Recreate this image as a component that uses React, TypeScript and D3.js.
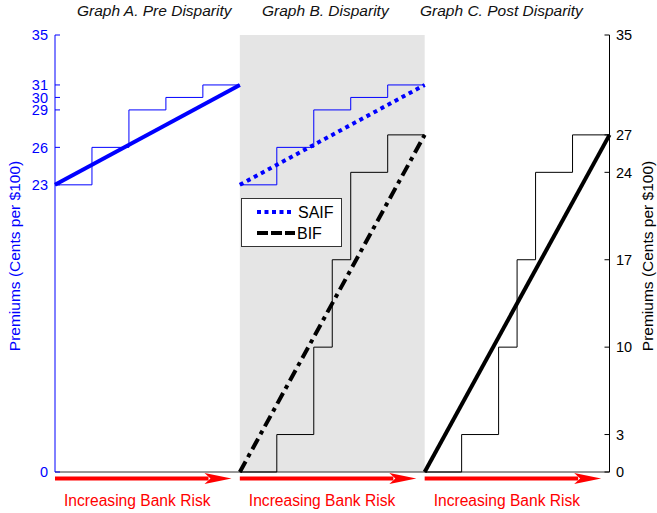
import React from "react";
import * as d3 from "d3";

// ---- data ----
const panelTitles = ["Graph A. Pre Disparity", "Graph B. Disparity", "Graph C. Post Disparity"];
const riskBreaksSAIF = [0, 0.2, 0.4, 0.6, 0.8, 1];
const premiumsSAIF = [23, 26, 29, 30, 31];
const riskBreaksBIF = [0, 0.2, 0.4, 0.5, 0.6, 0.8, 1];
const premiumsBIF = [0, 3, 10, 17, 24, 27];
const trendSAIF = [23, 31];
const trendBIF = [0, 27];
const leftTicks = [0, 23, 26, 29, 30, 31, 35];
const rightTicks = [0, 3, 10, 17, 24, 27, 35];
const yLabel = "Premiums (Cents per $100)";
const xLabel = "Increasing Bank Risk";
const legendNames = ["SAIF", "BIF"];

const W = 657, H = 513;
const left = 55, right = 609.5, top = 35, bottom = 472;
const FONT = "'Liberation Sans', Arial, Helvetica, sans-serif";
const BLUE = "#0000ff";

export default function App() {
  const y = d3.scaleLinear().domain([0, 35]).range([bottom, top]);
  const panel = d3.scaleLinear().domain([0, 3]).range([left, right]);
  const px = (i: number) => d3.scaleLinear().domain([0, 1]).range([panel(i), panel(i + 1)]);

  const stepPath = (i: number, breaks: number[], vals: number[]) => {
    const x = px(i);
    const pts: [number, number][] = breaks.map((b, k) => [b, vals[Math.min(k, vals.length - 1)]]);
    return d3.line<[number, number]>().x(d => x(d[0])).y(d => y(d[1])).curve(d3.curveStepAfter)(pts) || "";
  };
  const trendPath = (i: number, vals: number[]) => {
    const x = px(i);
    return d3.line<[number, number]>().x(d => x(d[0])).y(d => y(d[1]))([[0, vals[0]], [1, vals[1]]]) || "";
  };

  const arrowY = 478.5;
  const arrows = [0, 1, 2].map(i => {
    const x0 = panel(i);
    const tip = x0 + 176.5;
    const back = tip - 27;
    return (
      <g key={"ar" + i}>
        <line x1={x0} x2={back + 4} y1={arrowY} y2={arrowY} stroke="#ff0000" strokeWidth={4} />
        <polygon
          points={`${tip},${arrowY} ${back},${arrowY - 5.5} ${back + 6},${arrowY} ${back},${arrowY + 5.5}`}
          fill="#ff0000"
        />
        <text x={x0 + 9} y={506} fontSize={15.6} fill="#ff0000" fontFamily={FONT}>{xLabel}</text>
      </g>
    );
  });

  const titleX = [77, 262, 420];

  return (
    <svg width={W} height={H} style={{ position: "absolute", left: 0, top: 0, background: "#fff" }}>
      {/* gray panel B background */}
      <rect x={panel(1)} y={top} width={panel(2) - panel(1)} height={bottom - top} fill="#e5e5e5" />

      {/* titles */}
      {panelTitles.map((t, i) => (
        <text key={t} x={titleX[i]} y={16} fontSize={15.5} fontStyle="italic" fontFamily={FONT} fill="#111">{t}</text>
      ))}

      {/* bottom axis line */}
      <line x1={left} x2={right} y1={bottom} y2={bottom} stroke="#333" strokeWidth={1} />

      {/* step functions */}
      <path d={stepPath(0, riskBreaksSAIF, premiumsSAIF)} fill="none" stroke={BLUE} strokeWidth={1} />
      <path d={stepPath(1, riskBreaksSAIF, premiumsSAIF)} fill="none" stroke={BLUE} strokeWidth={1} />
      <path d={stepPath(1, riskBreaksBIF, premiumsBIF)} fill="none" stroke="#000" strokeWidth={1} />
      <path d={stepPath(2, riskBreaksBIF, premiumsBIF)} fill="none" stroke="#000" strokeWidth={1} />

      {/* trend lines */}
      <path d={trendPath(0, trendSAIF)} fill="none" stroke={BLUE} strokeWidth={4} />
      <path d={trendPath(1, trendSAIF)} fill="none" stroke={BLUE} strokeWidth={4} strokeDasharray="4,4" />
      <path d={trendPath(1, trendBIF)} fill="none" stroke="#000" strokeWidth={4} strokeDasharray="12,5,4,5" />
      <path d={trendPath(2, trendBIF)} fill="none" stroke="#000" strokeWidth={4} />

      {/* left axis */}
      <line x1={left} x2={left} y1={top} y2={bottom} stroke={BLUE} strokeWidth={1} />
      {leftTicks.map(t => (
        <g key={"l" + t}>
          <line x1={left} x2={left + 5} y1={y(t)} y2={y(t)} stroke={BLUE} strokeWidth={1} />
          <text x={48} y={y(t)} dy="0.36em" textAnchor="end" fontSize={14.5} fill={BLUE} fontFamily={FONT}>{t}</text>
        </g>
      ))}
      <text transform={`translate(20,256) rotate(-90)`} textAnchor="middle" fontSize={15.5} fill={BLUE} fontFamily={FONT}>{yLabel}</text>

      {/* right axis */}
      <line x1={right} x2={right} y1={top} y2={bottom} stroke="#000" strokeWidth={1} />
      {rightTicks.map(t => (
        <g key={"r" + t}>
          <line x1={right - 5} x2={right} y1={y(t)} y2={y(t)} stroke="#000" strokeWidth={1} />
          <text x={616} y={y(t)} dy="0.36em" fontSize={14.5} fill="#000" fontFamily={FONT}>{t}</text>
        </g>
      ))}
      <text transform={`translate(653,256) rotate(-90)`} textAnchor="middle" fontSize={15.5} fill="#000" fontFamily={FONT}>{yLabel}</text>

      {/* legend */}
      <rect x={241.5} y={198.5} width={100} height={48} fill="#fff" stroke="#333" strokeWidth={1} />
      <line x1={257} x2={292} y1={212} y2={212} stroke={BLUE} strokeWidth={4} strokeDasharray="4,3.5" />
      <text x={298} y={217.5} fontSize={16} fontFamily={FONT} fill="#000">{legendNames[0]}</text>
      <line x1={257} x2={295} y1={233} y2={233} stroke="#000" strokeWidth={4} strokeDasharray="11,3" />
      <text x={297} y={238.5} fontSize={16} fontFamily={FONT} fill="#000">{legendNames[1]}</text>

      {arrows}
    </svg>
  );
}
